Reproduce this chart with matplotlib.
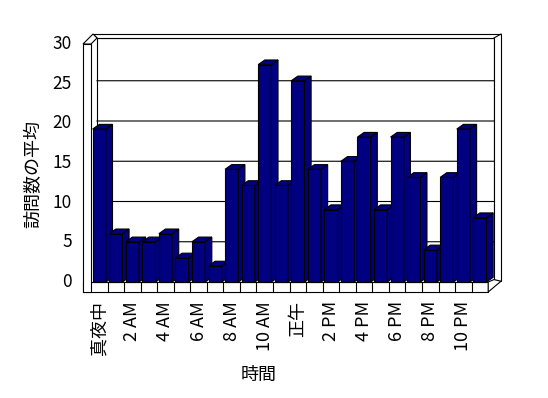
import matplotlib
matplotlib.use("Agg")
import matplotlib.pyplot as plt
from matplotlib.patches import Polygon, Rectangle

plt.rcParams['font.family'] = ['Noto Sans CJK JP', 'DejaVu Sans']

# data
hours = ["真夜中", "1 AM", "2 AM", "3 AM", "4 AM", "5 AM", "6 AM", "7 AM",
         "8 AM", "9 AM", "10 AM", "11 AM", "正午", "1 PM", "2 PM", "3 PM",
         "4 PM", "5 PM", "6 PM", "7 PM", "8 PM", "9 PM", "10 PM", "11 PM"]
visits = [19, 6, 5, 5, 6, 3, 5, 2, 14, 12, 27, 12,
          25, 14, 9, 15, 18, 9, 18, 13, 4, 13, 19, 8]
y_ticks = [0, 5, 10, 15, 20, 25, 30]
x_title = "時間"
y_title = "訪問数の平均"

# layout (pixels per data unit, pixel origin of the front floor)
W, H = 548, 398
SX, SY = 16.55, 8.05
X0, Y0 = 91, 282
BAR_W = 0.8
DX, DY = 0.4, 0.58          # bar depth
NAVY = "#000080"
LW = 0.8


def px_x(p):
    return -0.5 + (p - X0) / SX


def px_y(p):
    return (Y0 - p) / SY


fig = plt.figure(figsize=(W / 100, H / 100), dpi=100)
ax = fig.add_axes([0, 0, 1, 1])
ax.set_xlim(px_x(0), px_x(W))
ax.set_ylim(px_y(H), px_y(0))
ax.axis("off")

n = len(visits)
# wall geometry in data units
left_out = px_x(83)
back_in_l, back_in_r = px_x(97), px_x(494)
back_out_r = px_x(501)
top_in, top_out = px_y(38), px_y(34)
wall_top = px_y(44)
floor_bot = px_y(292)
right_end = -0.5 + n

# back wall
ax.add_patch(Rectangle((back_in_l, 0), back_in_r - back_in_l, top_in,
                       facecolor="white", edgecolor="black", lw=LW, zorder=1))
for v in y_ticks[1:-1]:
    ax.plot([back_in_l, back_in_r, back_out_r], [v, v, v + 0.3],
            color="black", lw=LW, zorder=1)
# back wall top slab and right edge
ax.add_patch(Polygon([(px_x(93), top_out), (back_out_r, top_out),
                      (back_out_r, 0.1), (back_in_r, 0.1),
                      (back_in_r, top_in), (back_in_l, top_in)],
                     closed=True, facecolor="white", edgecolor="black",
                     lw=LW, zorder=1))
ax.plot([back_in_r, back_out_r], [top_in, top_out], color="black", lw=LW, zorder=1)

# floor front slab
ax.add_patch(Rectangle((left_out, floor_bot), right_end - left_out, -floor_bot,
                       facecolor="white", edgecolor="black", lw=LW, zorder=2))
for k in range(1, n):
    ax.plot([k - 0.5, k - 0.5], [floor_bot, 0], color="black", lw=LW, zorder=2)
ax.add_patch(Polygon([(right_end, floor_bot), (back_out_r, 0.1),
                      (back_in_r, 0.3), (right_end, 0)],
                     closed=True, facecolor="white", edgecolor="black",
                     lw=LW, zorder=2))

# left wall
ax.add_patch(Rectangle((left_out, floor_bot), -0.5 - left_out, wall_top - floor_bot,
                       facecolor="white", edgecolor="black", lw=LW, zorder=2))
ax.add_patch(Polygon([(left_out, wall_top), (px_x(93), top_out),
                      (back_in_l, top_in), (-0.5, wall_top)],
                     closed=True, facecolor="white", edgecolor="black",
                     lw=LW, zorder=2))

# bars, left to right so that each one covers the side of the previous
for i, v in enumerate(visits):
    x0, x1 = i - BAR_W / 2, i + BAR_W / 2
    z = 3 + i * 0.01
    ax.bar(i, v, width=BAR_W, color=NAVY, edgecolor="black", lw=LW, zorder=z)
    ax.add_patch(Polygon([(x1, 0), (x1 + DX, DY), (x1 + DX, v + DY), (x1, v)],
                         closed=True, facecolor=NAVY, edgecolor="black",
                         lw=LW, zorder=z))
    ax.add_patch(Polygon([(x0, v), (x1, v), (x1 + DX, v + DY), (x0 + DX, v + DY)],
                         closed=True, facecolor=NAVY, edgecolor="black",
                         lw=LW, zorder=z))

# tick labels
for v in y_ticks:
    ax.text(px_x(72), v * 0.985, str(v), ha="right", va="center", fontsize=12.5)
for i in range(0, n, 2):
    ax.text(i, px_y(301), hours[i], rotation=90, ha="center", va="top",
            fontsize=13)

ax.text(px_x(259), px_y(375), x_title, ha="center", va="center", fontsize=13)
ax.text(px_x(33), px_y(174), y_title, rotation=90, ha="center", va="center",
        fontsize=13)

fig.savefig("out.png", dpi=100)
